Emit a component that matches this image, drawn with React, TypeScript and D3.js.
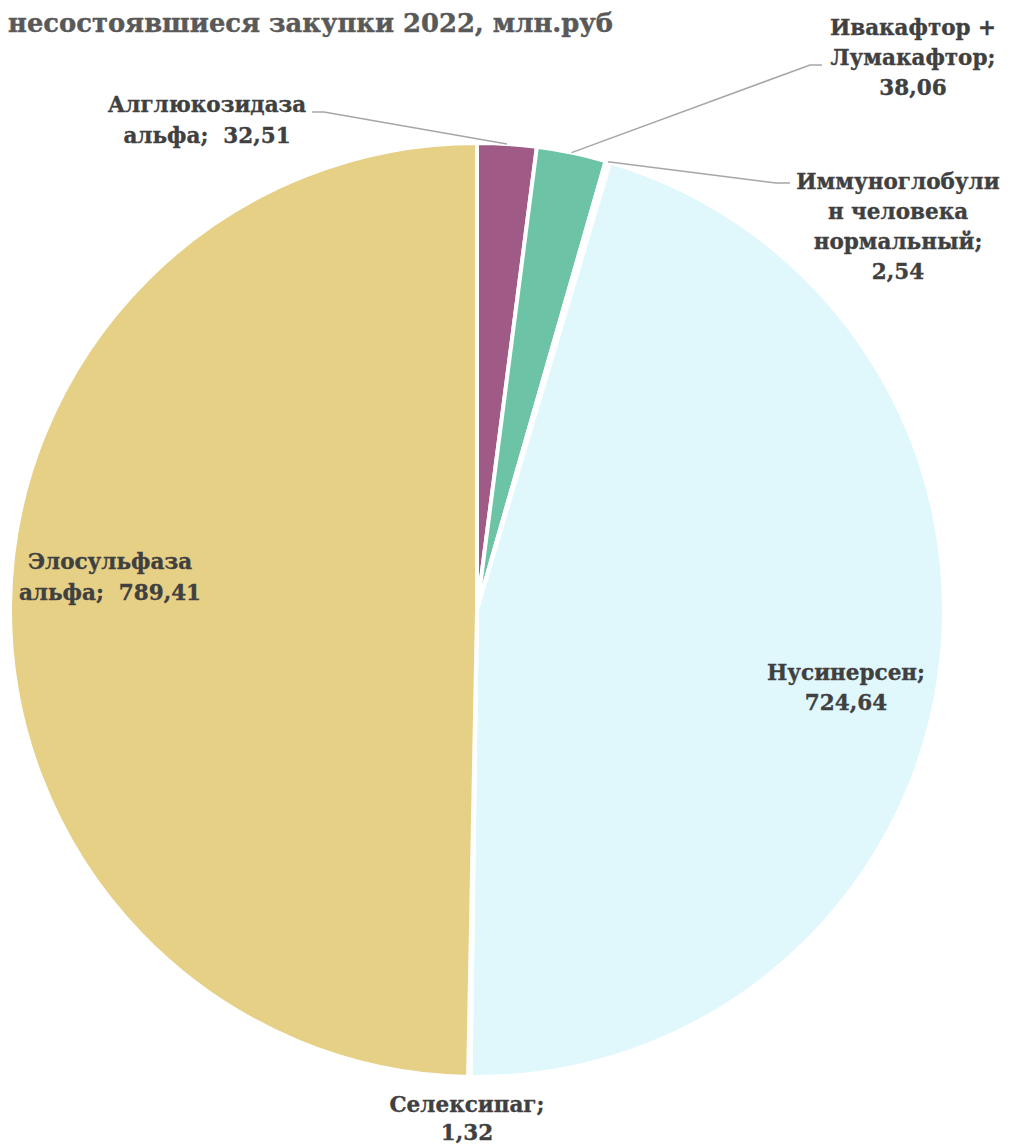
import React from "react";
import * as d3 from "d3";

const categories = [
  "Алглюкозидаза альфа",
  "Ивакафтор + Лумакафтор",
  "Иммуноглобулин человека нормальный",
  "Нусинерсен",
  "Селексипаг",
  "Элосульфаза альфа",
];
const values = [32.51, 38.06, 2.54, 724.64, 1.32, 789.41];
const labelLines = [
  ["Алглюкозидаза", "альфа;  32,51"],
  ["Ивакафтор +", "Лумакафтор;", "38,06"],
  ["Иммуноглобули", "н человека", "нормальный;", "2,54"],
  ["Нусинерсен;", "724,64"],
  ["Селексипаг;", "1,32"],
  ["Элосульфаза", "альфа;  789,41"],
];
const colors = ["#9f5a86", "#6cc3a5", "#ffffff", "#e0f8fc", "#ffffff", "#e6d085"];
const title = "несостоявшиеся закупки 2022, млн.руб";

// label layout: center x, first line center y, line step, leader elbow (null = no leader)
const labelLayout = [
  { x: 207, y: 104, step: 31, elbow: [312, 112], elbowEnd: [324, 112] },
  { x: 913, y: 27, step: 30, elbow: [822, 65], elbowEnd: [810, 65] },
  { x: 898, y: 181, step: 30, elbow: [790, 183], elbowEnd: [776, 183] },
  { x: 846, y: 672, step: 30, elbow: null, elbowEnd: null },
  { x: 467, y: 1104, step: 28, elbow: null, elbowEnd: null },
  { x: 110, y: 561, step: 31, elbow: null, elbowEnd: null },
];

const W = 1010;
const H = 1144;
const cx = 477;
const cy = 610;
const R = 467;
const font = "'DejaVu Serif', serif";
const textColor = "#404040";

export default function App() {
  const pie = d3.pie<number>().sort(null).value((d) => d);
  const arcs = pie(values);
  const arc = d3.arc<d3.PieArcDatum<number>>().innerRadius(0).outerRadius(R);

  return (
    <svg width={W} height={H} style={{ position: "absolute", left: 0, top: 0 }}>
      <text
        x={8}
        y={32}
        fontFamily={font}
        fontWeight="bold"
        fontSize={25.8}
        fill="#595959"
        stroke="#595959"
        strokeWidth={0.4}
      >
        {title}
      </text>
      <g transform={`translate(${cx},${cy})`}>
        {arcs.map((a, i) => (
          <path
            key={categories[i]}
            d={arc(a) || ""}
            fill={colors[i]}
            stroke="#ffffff"
            strokeWidth={4}
            strokeLinejoin="round"
          />
        ))}
      </g>
      {arcs.map((a, i) => {
        const L = labelLayout[i];
        if (!L.elbow) return null;
        const mid = (a.startAngle + a.endAngle) / 2;
        const px = cx + R * Math.sin(mid);
        const py = cy - R * Math.cos(mid);
        return (
          <polyline
            key={"l" + i}
            points={`${px},${py} ${L.elbowEnd![0]},${L.elbowEnd![1]} ${L.elbow[0]},${L.elbow[1]}`}
            fill="none"
            stroke="#a6a6a6"
            strokeWidth={1.5}
          />
        );
      })}
      {labelLines.map((lines, i) => {
        const L = labelLayout[i];
        return (
          <text
            key={"t" + i}
            fontFamily={font}
            fontWeight="bold"
            fontSize={21.5}
            fill={textColor}
            stroke={textColor}
            strokeWidth={0.35}
            textAnchor="middle"
          >
            {lines.map((ln, j) => (
              <tspan key={j} x={L.x} y={L.y + j * L.step} dy="0.35em" style={{ whiteSpace: "pre" }}>
                {ln}
              </tspan>
            ))}
          </text>
        );
      })}
    </svg>
  );
}
